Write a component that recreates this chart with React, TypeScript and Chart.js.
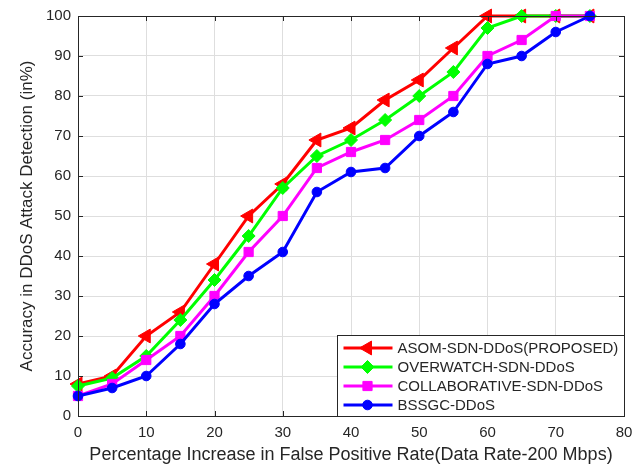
import React, { useEffect, useRef } from 'react';
import { Chart, registerables } from 'chart.js';

Chart.register(...registerables);

const xValues = [0, 5, 10, 15, 20, 25, 30, 35, 40, 45, 50, 55, 60, 65, 70, 75];
const asomValues = [8, 10, 20, 26, 38, 50, 58, 69, 72, 79, 84, 92, 100, 100, 100, 100];
const overwatchValues = [7.5, 9.5, 15, 24, 34, 45, 57, 65, 69, 74, 80, 86, 97, 100, 100, 100];
const collaborativeValues = [5, 8, 14, 20, 30, 41, 50, 62, 66, 69, 74, 80, 90, 94, 100, 100];
const bssgcValues = [5, 7, 10, 18, 28, 35, 41, 56, 61, 62, 70, 76, 88, 90, 96, 100];

const seriesLabels = [
  'ASOM-SDN-DDoS(PROPOSED)',
  'OVERWATCH-SDN-DDoS',
  'COLLABORATIVE-SDN-DDoS',
  'BSSGC-DDoS',
];
const seriesColors = ['#ff0000', '#00ff00', '#ff00ff', '#0000ff'];
const pointStyles = ['triangle', 'rectRot', 'rect', 'circle'];
const pointRadii = [8, 6.5, 6.5, 4.8];
const pointRotations = [-90, 0, 0, 0];

const xTitle = 'Percentage Increase in False Positive Rate(Data Rate-200 Mbps)';
const yTitle = 'Accuracy in DDoS Attack Detection (in%)';

const FONT = "'Liberation Sans', Arial, sans-serif";
const AXIS_COLOR = '#262626';
const GRID_COLOR = '#dedede';

function drawMarker(ctx: CanvasRenderingContext2D, style: string, x: number, y: number, r: number, rot: number) {
  ctx.beginPath();
  if (style === 'circle') {
    ctx.arc(x, y, r, 0, Math.PI * 2);
  } else if (style === 'rect') {
    const s = Math.SQRT1_2 * r;
    ctx.rect(x - s, y - s, 2 * s, 2 * s);
  } else if (style === 'rectRot') {
    ctx.moveTo(x, y - r);
    ctx.lineTo(x + r, y);
    ctx.lineTo(x, y + r);
    ctx.lineTo(x - r, y);
    ctx.closePath();
  } else if (style === 'triangle') {
    let rad = (rot * Math.PI) / 180;
    ctx.moveTo(x + Math.sin(rad) * r, y - Math.cos(rad) * r);
    rad += (2 * Math.PI) / 3;
    ctx.lineTo(x + Math.sin(rad) * r, y - Math.cos(rad) * r);
    rad += (2 * Math.PI) / 3;
    ctx.lineTo(x + Math.sin(rad) * r, y - Math.cos(rad) * r);
    ctx.closePath();
  }
  ctx.fill();
  ctx.stroke();
}

const framePlugin = {
  id: 'frame',
  afterDatasetsDraw(chart: any) {
    const { ctx, chartArea, scales } = chart;
    const { left, right, top, bottom } = chartArea;
    ctx.save();
    ctx.strokeStyle = AXIS_COLOR;
    ctx.lineWidth = 1;
    const tl = 5;
    ctx.beginPath();
    scales.x.ticks.forEach((t: any) => {
      const px = Math.round(scales.x.getPixelForValue(t.value)) + 0.5;
      ctx.moveTo(px, bottom);
      ctx.lineTo(px, bottom - tl);
      ctx.moveTo(px, top);
      ctx.lineTo(px, top + tl);
    });
    scales.y.ticks.forEach((t: any) => {
      const py = Math.round(scales.y.getPixelForValue(t.value)) + 0.5;
      ctx.moveTo(left, py);
      ctx.lineTo(left + tl, py);
      ctx.moveTo(right, py);
      ctx.lineTo(right - tl, py);
    });
    ctx.stroke();
    ctx.beginPath();
    ctx.rect(Math.round(left) + 0.5, Math.round(top) + 0.5, Math.round(right - left), Math.round(bottom - top));
    ctx.stroke();
    ctx.restore();
  },
  afterDraw(chart: any) {
    const { ctx, chartArea } = chart;
    const w = 287;
    const h = 81;
    const bx = Math.round(chartArea.right) - w + 0.5;
    const by = Math.round(chartArea.bottom) - h + 0.5;
    ctx.save();
    ctx.fillStyle = '#ffffff';
    ctx.fillRect(bx, by, w, h);
    ctx.strokeStyle = AXIS_COLOR;
    ctx.lineWidth = 1;
    ctx.strokeRect(bx, by, w, h);
    ctx.font = `15px ${FONT}`;
    ctx.textBaseline = 'middle';
    ctx.textAlign = 'left';
    chart.data.datasets.forEach((ds: any, i: number) => {
      const ry = by + 12.5 + i * 19;
      const color = seriesColors[i];
      ctx.strokeStyle = color;
      ctx.fillStyle = color;
      ctx.lineWidth = 3;
      ctx.beginPath();
      ctx.moveTo(bx + 6, ry);
      ctx.lineTo(bx + 55, ry);
      ctx.stroke();
      ctx.lineWidth = 1;
      drawMarker(ctx, pointStyles[i], bx + 30, ry, pointRadii[i], pointRotations[i]);
      ctx.fillStyle = AXIS_COLOR;
      ctx.fillText(ds.label, bx + 60, ry + 1);
    });
    ctx.restore();
  },
};

export default function App() {
  const canvasRef = useRef<HTMLCanvasElement | null>(null);

  useEffect(() => {
    document.body.style.margin = '0';
    const canvas = canvasRef.current;
    if (!canvas) return;
    const seriesValues = [asomValues, overwatchValues, collaborativeValues, bssgcValues];
    const chart = new Chart(canvas, {
      type: 'line',
      data: {
        datasets: seriesValues.map((vals, i) => ({
          label: seriesLabels[i],
          data: xValues.map((x, j) => ({ x, y: vals[j] })),
          borderColor: seriesColors[i],
          backgroundColor: seriesColors[i],
          borderWidth: 3,
          pointStyle: pointStyles[i] as any,
          pointRadius: pointRadii[i],
          pointRotation: pointRotations[i],
          pointBorderWidth: 1,
          pointBackgroundColor: seriesColors[i],
          pointBorderColor: seriesColors[i],
          tension: 0,
          clip: false as any,
          order: 3 - i,
        })),
      },
      options: {
        animation: false,
        responsive: false,
        maintainAspectRatio: false,
        layout: { padding: { top: 16, right: 20, left: 0, bottom: 0 } },
        plugins: {
          legend: { display: false },
          tooltip: { enabled: false },
        },
        scales: {
          x: {
            type: 'linear',
            min: 0,
            max: 80,
            ticks: {
              stepSize: 10,
              padding: 8,
              color: AXIS_COLOR,
              font: { family: FONT, size: 15 },
              maxRotation: 0,
            },
            grid: { color: GRID_COLOR, drawTicks: false, lineWidth: 1 },
            border: { display: false },
            title: {
              display: true,
              text: xTitle,
              color: AXIS_COLOR,
              font: { family: FONT, size: 18, lineHeight: 1 },
              padding: { top: 0, bottom: 0 },
            },
            afterFit: (scale: any) => {
              scale.height = 48;
            },
          },
          y: {
            type: 'linear',
            min: 0,
            max: 100,
            ticks: {
              stepSize: 10,
              padding: 7,
              color: AXIS_COLOR,
              font: { family: FONT, size: 15 },
            },
            grid: { color: GRID_COLOR, drawTicks: false, lineWidth: 1 },
            border: { display: false },
            title: {
              display: true,
              text: yTitle,
              color: AXIS_COLOR,
              font: { family: FONT, size: 17, lineHeight: 1.2 },
              padding: { top: 17, bottom: 0 },
            },
            afterFit: (scale: any) => {
              scale.width = 78;
            },
          },
        },
      },
      plugins: [framePlugin],
    });
    return () => chart.destroy();
  }, []);

  return (
    <div style={{ width: 644, height: 464, background: '#fff' }}>
      <canvas ref={canvasRef} width={644} height={464} style={{ display: 'block', width: 644, height: 464 }} />
    </div>
  );
}
